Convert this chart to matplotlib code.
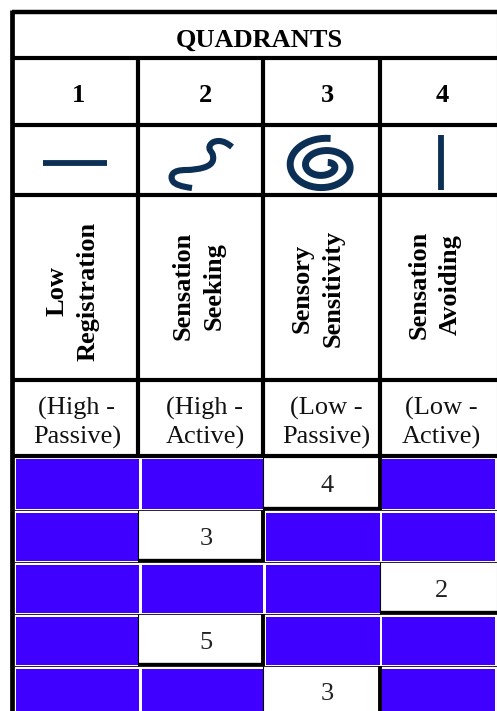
import numpy as np
import matplotlib
matplotlib.use('Agg')
import matplotlib.pyplot as plt
from matplotlib.patches import Rectangle, PathPatch
from matplotlib.path import Path

plt.rcParams['font.family'] = ['Liberation Serif', 'DejaVu Serif']

title = "QUADRANTS"
quadrants = ["1", "2", "3", "4"]
names = ["Low\nRegistration", "Sensation\nSeeking", "Sensory\nSensitivity", "Sensation\nAvoiding"]
patterns = ["(High -\nPassive)", "(High -\nActive)", "(Low -\nPassive)", "(Low -\nActive)"]
scores = [4, 3, 2, 5, 3]
score_cols = [2, 1, 3, 1, 2]

BLUE = '#3f00ff'
NAVY = '#0b2f55'
FS = 19

# layout in pixels
col_x = [12, 138, 263, 380, 497]
head_y = [12, 58, 125, 195, 380, 456]
row_y = [456, 510, 562, 614, 666, 720]
blue_x0 = [16, 142, 266, 382]
blue_x1 = [139, 263, 380, 495]
text_x = [78, 206, 327, 442]
name_pos = [(73, 291), (199, 286), (318, 288), (435, 285)]

fig = plt.figure(figsize=(4.97, 7.11), dpi=100)
ax = fig.add_axes([0, 0, 1, 1])
ax.set_xlim(0, 497)
ax.set_ylim(711, 0)
ax.axis('off')


def hline(y, x0=12, x1=497, lw=3.0):
    ax.plot([x0, x1], [y, y], color='black', lw=lw, solid_capstyle='butt', zorder=4)


def vline(x, y0, y1, lw=3.0):
    ax.plot([x, x], [y0, y1], color='black', lw=lw, solid_capstyle='butt', zorder=4)


# header rows
ax.text(259.5, 40, title, ha='center', va='center', fontsize=FS, fontweight='bold')
for x, q in zip(text_x, quadrants):
    ax.text(x, 95, q, ha='center', va='center', fontsize=FS, fontweight='bold')
for (x, y), n in zip(name_pos, names):
    ax.text(x, y, n, ha='center', va='center', rotation=90, multialignment='center',
            fontsize=FS, fontweight='bold', linespacing=1.45)
for x, p in zip(text_x, patterns):
    ax.text(x - 1, 423, p, ha='center', va='center', multialignment='center',
            fontsize=FS, linespacing=1.3, color='#111111')

# icons
ax.plot([43, 107], [163, 163], color=NAVY, lw=4.2, solid_capstyle='butt')
ax.plot([441, 441], [135, 190], color=NAVY, lw=4.2, solid_capstyle='butt')
s_pts = [(192, 188), (176, 186), (170, 177), (176, 170), (196, 170), (212, 165), (214, 155),
         (208, 148), (213, 141), (225, 141), (232, 147)]
s_verts = [s_pts[0]]
for a, b in zip(s_pts[1:-1], s_pts[2:]):
    s_verts += [a, ((a[0] + b[0]) / 2, (a[1] + b[1]) / 2)]
s_verts[-1] = s_pts[-1]
s_codes = [Path.MOVETO] + [Path.CURVE3] * (len(s_verts) - 1)
ax.add_patch(PathPatch(Path(s_verts, s_codes), facecolor='none', edgecolor=NAVY, lw=4.4,
                       capstyle='butt'))
turn = np.linspace(0, 1, 200)
ang = np.radians(80) + turn * 1.95 * 2 * np.pi
ax.plot(324 + (38 - 30 * turn) * np.cos(ang), 166 - (28 - 24 * turn) * np.sin(ang),
        color=NAVY, lw=5.0, solid_capstyle='butt')

# score rows, one blue block per empty cell
for r, (val, c) in enumerate(zip(scores, score_cols)):
    y0, y1 = row_y[r], row_y[r + 1]
    for i in range(4):
        if i == c:
            continue
        ax.add_patch(Rectangle((blue_x0[i], y0 + 3), blue_x1[i] - blue_x0[i], y1 - y0 - 4,
                               facecolor=BLUE, edgecolor='none', zorder=2))
    ax.text(text_x[c], (y0 + y1) / 2 + 3 if r < 4 else 694, str(val), ha='center', va='center',
            fontsize=FS, color='#222222', zorder=5)
    # thin rule under the row, heavy lines round the white cell
    hline(y1, 14, 497, lw=0.6)
    hline(y1 - 2, col_x[c], col_x[c + 1], lw=2.4)
    if c > 0:
        vline(col_x[c], y0, min(y1, 711), lw=0.8)
    if c < 3:
        vline(col_x[c + 1], y0, min(y1, 711), lw=2.8)

# grid of the header part
hline(head_y[0], lw=3.2)
for y in head_y[1:]:
    hline(y, lw=3.0)
vline(12, 10, 711, lw=3.4)
for x in col_x[1:-1]:
    vline(x, head_y[1], head_y[-1], lw=3.0)
ax.plot([496.5, 496.5], [14, 711], color='#aaaaaa', lw=0.8, zorder=3)

fig.savefig('out.png', dpi=100, facecolor='white')
